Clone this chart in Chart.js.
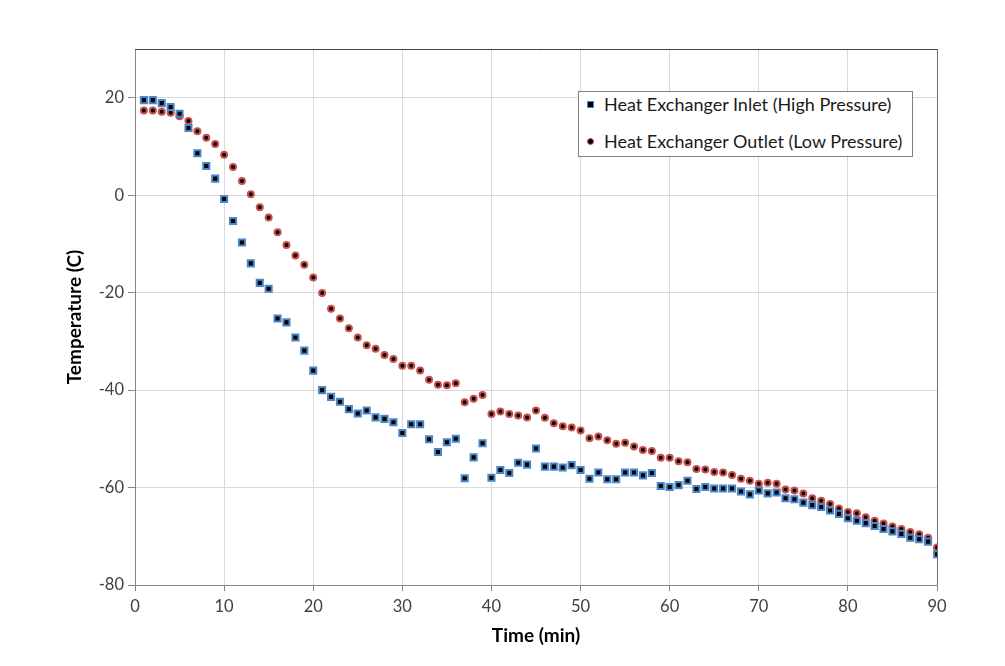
<!DOCTYPE html>
<html>
<head>
<meta charset="utf-8">
<script src="https://cdn.jsdelivr.net/npm/chart.js@4.4.1/dist/chart.umd.min.js"></script>
<style>
  html, body { margin: 0; padding: 0; background: #ffffff; }
  #wrap { position: relative; width: 1005px; height: 666px; }
  #legend {
    position: absolute; left: 578px; top: 91px; width: 335px; height: 66px;
    border: 1px solid #808080; background: #ffffff; box-sizing: border-box;
    font-family: Lato, "Open Sans", sans-serif; font-size: 18px; color: #1a1a1a;
  }
  .row { position: absolute; left: 0; height: 22px; line-height: 22px; white-space: nowrap; }
  .mk { position: absolute; box-sizing: border-box; background: #000; }
  .txt { position: absolute; left: 25px; top: 0; }
</style>
</head>
<body>
<div id="wrap">
  <canvas id="c" width="1005" height="666"></canvas>
  <div id="legend"></div>
</div>
<script>
// ---- data ----
const timeMin = [1,2,3,4,5,6,7,8,9,10,11,12,13,14,15,16,17,18,19,20,21,22,23,24,25,26,27,28,29,30,
  31,32,33,34,35,36,37,38,39,40,41,42,43,44,45,46,47,48,49,50,51,52,53,54,55,56,57,58,59,60,
  61,62,63,64,65,66,67,68,69,70,71,72,73,74,75,76,77,78,79,80,81,82,83,84,85,86,87,88,89,90];

const inletHighPressure = [19.5,19.5,18.9,18.1,16.7,13.8,8.6,6.0,3.4,-0.8,-5.3,-9.7,-14.0,-18.0,-19.2,
  -25.3,-26.1,-29.2,-31.9,-36.0,-40.0,-41.4,-42.4,-43.9,-44.8,-44.2,-45.6,-45.9,-46.6,-48.8,
  -47.0,-47.0,-50.1,-52.7,-50.7,-50.0,-58.1,-53.8,-50.9,-58.0,-56.4,-57.0,-54.9,-55.3,-52.0,
  -55.7,-55.7,-55.9,-55.4,-56.4,-58.2,-56.9,-58.3,-58.3,-56.9,-56.9,-57.5,-57.0,-59.7,-59.9,
  -59.5,-58.6,-60.3,-59.9,-60.2,-60.2,-60.2,-60.8,-61.4,-60.6,-61.2,-61.0,-62.2,-62.4,-63.1,
  -63.6,-64.0,-64.7,-65.4,-66.3,-66.8,-67.3,-67.9,-68.5,-69.0,-69.5,-70.3,-70.6,-71.1,-73.7];

const outletLowPressure = [17.4,17.4,17.1,16.9,16.2,15.2,13.1,11.8,10.5,8.3,5.8,2.9,0.2,-2.5,-4.6,
  -7.6,-10.2,-12.4,-14.3,-16.9,-20.1,-23.3,-25.3,-27.3,-29.2,-30.8,-31.5,-32.8,-33.6,-35.0,
  -35.0,-36.0,-37.9,-38.9,-39.0,-38.6,-42.5,-41.8,-41.0,-44.9,-44.4,-44.9,-45.2,-45.6,-44.2,
  -45.7,-46.8,-47.4,-47.7,-48.3,-49.9,-49.5,-50.3,-51.0,-50.8,-51.6,-52.3,-52.5,-53.9,-53.9,
  -54.6,-54.8,-56.2,-56.3,-56.8,-56.9,-57.4,-58.2,-58.6,-59.2,-59.0,-59.2,-60.4,-60.6,-61.2,
  -62.2,-62.7,-63.4,-64.3,-65.0,-65.3,-66.1,-66.8,-67.4,-68.0,-68.5,-69.1,-69.6,-70.3,-72.3];

const seriesNames = ['Heat Exchanger Inlet (High Pressure)', 'Heat Exchanger Outlet (Low Pressure)'];
const xTitle = 'Time (min)';
const yTitle = 'Temperature (C)';
const xMin = 0, xMax = 90, xStep = 10;
const yMin = -80, yMax = 30, yStep = 20;

// ---- chart ----
const toPts = (ys) => timeMin.map((t, i) => ({ x: t, y: ys[i] }));
const FONT = 'Lato, "Open Sans", sans-serif';

const frame = {
  id: 'frame',
  beforeDatasetsDraw(chart) {
    const { ctx, chartArea: a } = chart;
    ctx.save();
    ctx.lineWidth = 1;
    ctx.strokeStyle = '#404040';
    ctx.beginPath(); ctx.moveTo(a.left, a.top + 0.5); ctx.lineTo(a.right + 0.5, a.top + 0.5); ctx.stroke();
    ctx.strokeStyle = '#6e6e6e';
    ctx.beginPath(); ctx.moveTo(a.right + 0.5, a.top); ctx.lineTo(a.right + 0.5, a.bottom); ctx.stroke();
    ctx.restore();
  }
};

const chart = new Chart(document.getElementById('c'), {
  type: 'scatter',
  data: {
    datasets: [
      { label: seriesNames[0], data: toPts(inletHighPressure), pointStyle: 'rect', pointRadius: 4.3,
        backgroundColor: '#000000', borderColor: '#4a86c8', borderWidth: 2, pointHoverRadius: 4.3 },
      { label: seriesNames[1], data: toPts(outletLowPressure), pointStyle: 'circle', pointRadius: 3,
        backgroundColor: '#000000', borderColor: '#c9504c', borderWidth: 2, pointHoverRadius: 3 }
    ]
  },
  options: {
    responsive: false,
    devicePixelRatio: 1,
    animation: false,
    layout: { padding: { left: 59, top: 49, right: 68, bottom: 15 } },
    plugins: { legend: { display: false }, tooltip: { enabled: false } },
    scales: {
      x: {
        type: 'linear', min: xMin, max: xMax,
        ticks: { stepSize: xStep, color: '#404040', font: { family: FONT, size: 16.5 }, padding: 6 },
        grid: { color: '#d9d9d9', tickColor: '#868686', tickLength: 6 },
        border: { color: '#868686' },
        title: { display: true, text: xTitle, color: '#000', font: { family: FONT, size: 19, weight: 'bold' }, padding: { top: 4, bottom: 4 } },
        afterFit(s) { s.height = 66; }
      },
      y: {
        type: 'linear', min: yMin, max: yMax,
        ticks: { stepSize: yStep, includeBounds: false, color: '#404040', font: { family: FONT, size: 16.5 }, padding: 4 },
        grid: { color: '#d9d9d9', tickColor: '#868686', tickLength: 7 },
        border: { color: '#868686' },
        title: { display: true, text: yTitle, color: '#000', font: { family: FONT, size: 19, weight: 'bold' }, padding: { top: 4, bottom: 4 } },
        afterFit(s) { s.width = 76; }
      }
    }
  },
  plugins: [frame]
});

// ---- legend (HTML, from dataset labels) ----
const lg = document.getElementById('legend');
chart.data.datasets.forEach((ds, i) => {
  const row = document.createElement('div');
  row.className = 'row';
  row.style.top = (i === 0 ? 1 : 38) + 'px';
  const mk = document.createElement('span');
  mk.className = 'mk';
  if (ds.pointStyle === 'rect') {
    mk.style.cssText = 'left:8px;top:7.5px;width:7px;height:7px;border:1.5px solid ' + ds.borderColor + ';';
  } else {
    mk.style.cssText = 'left:8px;top:7.5px;width:7px;height:7px;border-radius:50%;border:1.5px solid ' + ds.borderColor + ';';
  }
  const tx = document.createElement('span');
  tx.className = 'txt';
  tx.textContent = ds.label;
  row.appendChild(mk); row.appendChild(tx);
  lg.appendChild(row);
});
</script>
</body>
</html>
